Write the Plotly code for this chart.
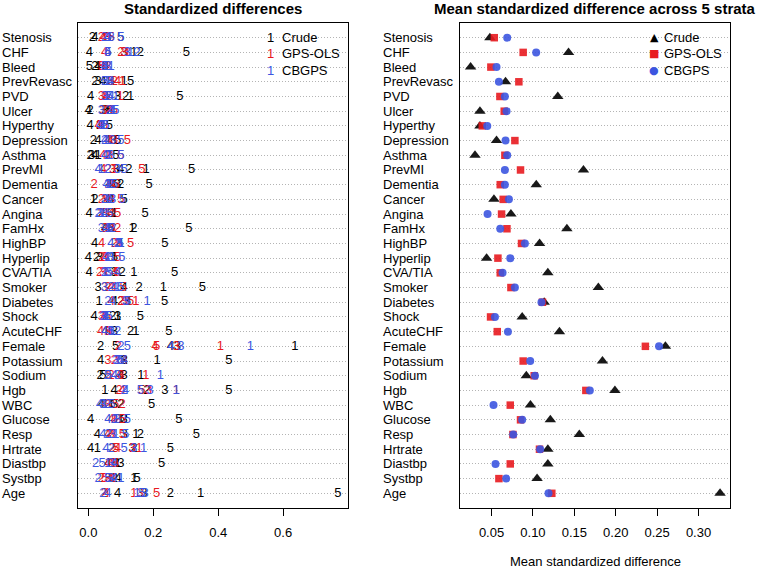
import plotly.graph_objects as go

covariates = ["Stenosis", "CHF", "Bleed", "PrevRevasc", "PVD", "Ulcer", "Hyperthy",
              "Depression", "Asthma", "PrevMI", "Dementia", "Cancer", "Angina", "FamHx",
              "HighBP", "Hyperlip", "CVA/TIA", "Smoker", "Diabetes", "Shock", "AcuteCHF",
              "Female", "Potassium", "Sodium", "Hgb", "WBC", "Glucose", "Resp", "Hrtrate",
              "Diastbp", "Systbp", "Age"]
strata = ["1", "2", "3", "4", "5"]

# standardized difference per stratum (1..5), one row per covariate
crude_strata = [
    [0.050, 0.012, 0.059, 0.020, 0.099], [0.140, 0.160, 0.110, 0.003, 0.302],
    [0.030, 0.020, 0.040, 0.030, 0.003], [0.110, 0.020, 0.030, 0.045, 0.130],
    [0.130, 0.115, 0.090, 0.007, 0.282], [0.060, 0.005, 0.050, 0.000, 0.065],
    [0.040, 0.035, 0.035, 0.005, 0.065], [0.070, 0.015, 0.075, 0.030, 0.090],
    [0.030, 0.005, 0.010, 0.020, 0.085], [0.178, 0.125, 0.085, 0.099, 0.318],
    [0.080, 0.099, 0.090, 0.064, 0.187], [0.015, 0.020, 0.050, 0.070, 0.110],
    [0.080, 0.040, 0.070, 0.002, 0.175], [0.135, 0.140, 0.070, 0.050, 0.310],
    [0.100, 0.090, 0.095, 0.019, 0.236], [0.080, 0.025, 0.035, 0.000, 0.080],
    [0.140, 0.104, 0.080, 0.002, 0.266], [0.231, 0.156, 0.030, 0.110, 0.351],
    [0.033, 0.100, 0.120, 0.080, 0.235], [0.090, 0.075, 0.090, 0.018, 0.160],
    [0.146, 0.130, 0.080, 0.050, 0.248], [0.636, 0.038, 0.274, 0.253, 0.084],
    [0.212, 0.110, 0.110, 0.038, 0.433], [0.162, 0.036, 0.110, 0.100, 0.045],
    [0.051, 0.180, 0.236, 0.079, 0.433], [0.070, 0.100, 0.080, 0.040, 0.195],
    [0.100, 0.110, 0.110, 0.007, 0.279], [0.146, 0.160, 0.110, 0.028, 0.333],
    [0.028, 0.140, 0.135, 0.007, 0.253], [0.090, 0.085, 0.100, 0.060, 0.226],
    [0.140, 0.080, 0.060, 0.092, 0.150], [0.346, 0.253, 0.171, 0.090, 0.769],
]
gps_strata = [
    [0.050, 0.040, 0.060, 0.045, 0.070], [0.120, 0.100, 0.110, 0.050, 0.060],
    [0.050, 0.060, 0.040, 0.055, 0.040], [0.105, 0.080, 0.070, 0.090, 0.070],
    [0.098, 0.050, 0.040, 0.055, 0.057], [0.070, 0.060, 0.045, 0.070, 0.080],
    [0.040, 0.040, 0.035, 0.030, 0.050], [0.070, 0.060, 0.080, 0.060, 0.120],
    [0.060, 0.060, 0.065, 0.045, 0.100], [0.080, 0.060, 0.075, 0.045, 0.165],
    [0.060, 0.018, 0.070, 0.070, 0.085], [0.050, 0.040, 0.070, 0.060, 0.100],
    [0.060, 0.040, 0.050, 0.070, 0.090], [0.060, 0.090, 0.050, 0.070, 0.073],
    [0.090, 0.080, 0.090, 0.041, 0.130], [0.060, 0.040, 0.050, 0.050, 0.090],
    [0.055, 0.035, 0.045, 0.080, 0.088], [0.080, 0.060, 0.050, 0.070, 0.107],
    [0.146, 0.100, 0.110, 0.070, 0.130], [0.050, 0.045, 0.040, 0.050, 0.059],
    [0.065, 0.060, 0.060, 0.038, 0.062], [0.407, 0.092, 0.270, 0.205, 0.210],
    [0.090, 0.080, 0.060, 0.110, 0.100], [0.177, 0.070, 0.100, 0.095, 0.065],
    [0.271, 0.095, 0.185, 0.105, 0.165], [0.065, 0.104, 0.060, 0.050, 0.084],
    [0.080, 0.090, 0.080, 0.070, 0.105], [0.080, 0.065, 0.070, 0.060, 0.105],
    [0.156, 0.075, 0.135, 0.090, 0.084], [0.075, 0.065, 0.080, 0.060, 0.083],
    [0.070, 0.040, 0.060, 0.075, 0.050], [0.140, 0.050, 0.160, 0.055, 0.210],
]
cbgps_strata = [
    [0.065, 0.050, 0.070, 0.060, 0.100], [0.130, 0.150, 0.120, 0.060, 0.060],
    [0.070, 0.050, 0.060, 0.050, 0.050], [0.060, 0.050, 0.065, 0.070, 0.050],
    [0.085, 0.060, 0.050, 0.070, 0.065], [0.075, 0.065, 0.040, 0.075, 0.085],
    [0.045, 0.050, 0.040, 0.035, 0.055], [0.060, 0.050, 0.075, 0.050, 0.100],
    [0.065, 0.060, 0.070, 0.050, 0.100], [0.040, 0.060, 0.090, 0.030, 0.110],
    [0.065, 0.070, 0.060, 0.055, 0.080], [0.060, 0.050, 0.075, 0.065, 0.105],
    [0.045, 0.030, 0.035, 0.050, 0.066], [0.060, 0.075, 0.040, 0.060, 0.067],
    [0.100, 0.090, 0.095, 0.069, 0.098], [0.075, 0.060, 0.070, 0.055, 0.103],
    [0.050, 0.050, 0.060, 0.090, 0.066], [0.090, 0.070, 0.050, 0.080, 0.100],
    [0.181, 0.060, 0.115, 0.075, 0.120], [0.055, 0.050, 0.045, 0.055, 0.065],
    [0.070, 0.090, 0.070, 0.050, 0.070], [0.499, 0.100, 0.285, 0.255, 0.120],
    [0.100, 0.090, 0.085, 0.110, 0.100], [0.222, 0.060, 0.090, 0.080, 0.060],
    [0.270, 0.110, 0.190, 0.115, 0.160], [0.050, 0.060, 0.045, 0.035, 0.072],
    [0.085, 0.080, 0.090, 0.060, 0.120], [0.085, 0.060, 0.075, 0.045, 0.115],
    [0.170, 0.070, 0.140, 0.055, 0.110], [0.060, 0.022, 0.070, 0.080, 0.042],
    [0.100, 0.030, 0.070, 0.080, 0.060], [0.150, 0.045, 0.175, 0.060, 0.165],
]

# mean standardized difference across the 5 strata
crude_mean = [0.048, 0.143, 0.0247, 0.0669, 0.130, 0.036, 0.036, 0.056, 0.030, 0.161,
              0.104, 0.0529, 0.0734, 0.141, 0.108, 0.044, 0.118, 0.179, 0.1136, 0.087,
              0.132, 0.260, 0.184, 0.092, 0.199, 0.097, 0.121, 0.156, 0.118, 0.118,
              0.105, 0.326]
gps_mean = [0.0533, 0.0882, 0.0492, 0.083, 0.0601, 0.0653, 0.0388, 0.0782, 0.0661, 0.085,
            0.0605, 0.0641, 0.0621, 0.0686, 0.0862, 0.0577, 0.0605, 0.0734, 0.1115, 0.0488,
            0.0569, 0.2358, 0.0882, 0.1015, 0.1639, 0.0726, 0.085, 0.0758, 0.1079, 0.0726,
            0.0589, 0.1228]
cbgps_mean = [0.0689, 0.1039, 0.056, 0.0589, 0.0661, 0.0681, 0.0448, 0.0669, 0.0689, 0.0661,
              0.0661, 0.071, 0.0452, 0.0605, 0.0903, 0.0726, 0.0633, 0.0782, 0.1103, 0.0541,
              0.0698, 0.2523, 0.0967, 0.1025, 0.1687, 0.0524, 0.087, 0.0762, 0.1087, 0.0548,
              0.0677, 0.1188]

methods = ["Crude", "GPS-OLS", "CBGPS"]
colors = ["#000000", "#E8191F", "#3C55E0"]
symbols = ["triangle-up", "square", "circle"]
sizes = [10, 7.5, 8]

FONT = "Liberation Sans, Arial, sans-serif"
W, H = 758, 568
ML, MR, MT, MB = 0, 28, 23, 60
PW = W - ML - MR
PH = H - MT - MB

n = len(covariates)
ypos = [n - i for i in range(n)]  # first covariate at the top


def px_x(p):
    return p / PW


def px_y(p):
    return 1 - (p - MT) / PH


fig = go.Figure()

# left panel: stratum numbers as text marks
for strata_vals, name, col in zip([crude_strata, gps_strata, cbgps_strata], methods, colors):
    xs, ys, ts = [], [], []
    for row, y in zip(strata_vals, ypos):
        for s, v in zip(strata, row):
            xs.append(v)
            ys.append(y)
            ts.append(s)
    fig.add_trace(go.Scatter(
        x=xs, y=ys, text=ts, mode="text", name=name,
        textfont=dict(family=FONT, size=13, color=col),
        showlegend=False, hoverinfo="skip", xaxis="x", yaxis="y"))

# right panel: mean across strata
for means, name, col, sym, sz in zip([crude_mean, gps_mean, cbgps_mean], methods, colors, symbols, sizes):
    fig.add_trace(go.Scatter(
        x=means, y=ypos, mode="markers", name=name,
        marker=dict(symbol=sym, size=sz, color=col, opacity=0.9, line=dict(width=0)),
        showlegend=False, xaxis="x2", yaxis="y2"))

common_y = dict(range=[0, n + 1], tickvals=ypos, showticklabels=False, ticks="",
                showgrid=True, gridcolor="#b4b4b4", griddash="1px,2px", gridwidth=1,
                zeroline=False, showline=True, linecolor="black", linewidth=1, mirror=True)
common_x = dict(ticks="outside", ticklen=7, tickcolor="black", showgrid=False,
                zeroline=False, showline=True, linecolor="black", linewidth=1, mirror=True,
                tickfont=dict(family=FONT, size=13, color="black"), ticklabelstandoff=5)

fig.update_layout(
    width=W, height=H,
    margin=dict(l=ML, r=MR, t=MT, b=MB),
    paper_bgcolor="white", plot_bgcolor="white",
    font=dict(family=FONT, color="black"),
    showlegend=False,
    xaxis=dict(domain=[px_x(78), px_x(348)], range=[-0.032, 0.8],
               tickvals=[0, 0.2, 0.4, 0.6], ticktext=["0.0", "0.2", "0.4", "0.6"],
               anchor="y", **common_x),
    yaxis=dict(domain=[0, 1], anchor="x", **common_y),
    xaxis2=dict(domain=[px_x(460), px_x(730)], range=[0.0119, 0.338],
                tickvals=[0.05, 0.10, 0.15, 0.20, 0.25, 0.30], tickformat=".2f",
                anchor="y2", **common_x),
    yaxis2=dict(domain=[0, 1], anchor="x2", **common_y),
)

ann = []
# covariate labels, left aligned outside each box
for lbl, y in zip(covariates, ypos):
    for xp, yr in [(0, "y"), (381, "y2")]:
        ann.append(dict(text=lbl, x=px_x(xp), xref="paper", y=y, yref=yr,
                        xanchor="left", yanchor="middle", showarrow=False,
                        font=dict(family=FONT, size=13, color="black")))

# titles
ann.append(dict(text="<b>Standardized differences</b>", x=px_x(213), y=px_y(8),
                xref="paper", yref="paper", showarrow=False, xanchor="center", yanchor="middle",
                font=dict(family=FONT, size=15, color="black")))
ann.append(dict(text="<b>Mean standardized difference across 5 strata</b>", x=px_x(595), y=px_y(8),
                xref="paper", yref="paper", showarrow=False, xanchor="center", yanchor="middle",
                font=dict(family=FONT, size=15, color="black")))
ann.append(dict(text="Mean standardized difference", x=px_x(595), y=px_y(561),
                xref="paper", yref="paper", showarrow=False, xanchor="center", yanchor="middle",
                font=dict(family=FONT, size=13, color="black")))

# legends
leg_y = [37.7, 53.3, 70]
glyphs = ["\u25B2", "\u25A0", "\u25CF"]
for name, col, g, yy in zip(methods, colors, glyphs, leg_y):
    ann.append(dict(text="1", x=px_x(270), y=px_y(yy), xref="paper", yref="paper",
                    showarrow=False, xanchor="center", yanchor="middle",
                    font=dict(family=FONT, size=13, color=col)))
    ann.append(dict(text=name, x=px_x(280), y=px_y(yy), xref="paper", yref="paper",
                    showarrow=False, xanchor="left", yanchor="middle",
                    font=dict(family=FONT, size=13, color="black")))
    ann.append(dict(text=g, x=px_x(654), y=px_y(yy), xref="paper", yref="paper",
                    showarrow=False, xanchor="center", yanchor="middle",
                    font=dict(family="DejaVu Sans, sans-serif", size=11, color=col)))
    ann.append(dict(text=name, x=px_x(662), y=px_y(yy), xref="paper", yref="paper",
                    showarrow=False, xanchor="left", yanchor="middle",
                    font=dict(family=FONT, size=13, color="black")))

fig.update_layout(annotations=ann)
# drop the default 8px page margin so the figure sits at the window corner
fig.write_html("out.html", config={"displayModeBar": False},
               post_script="document.body.style.margin='0';")
